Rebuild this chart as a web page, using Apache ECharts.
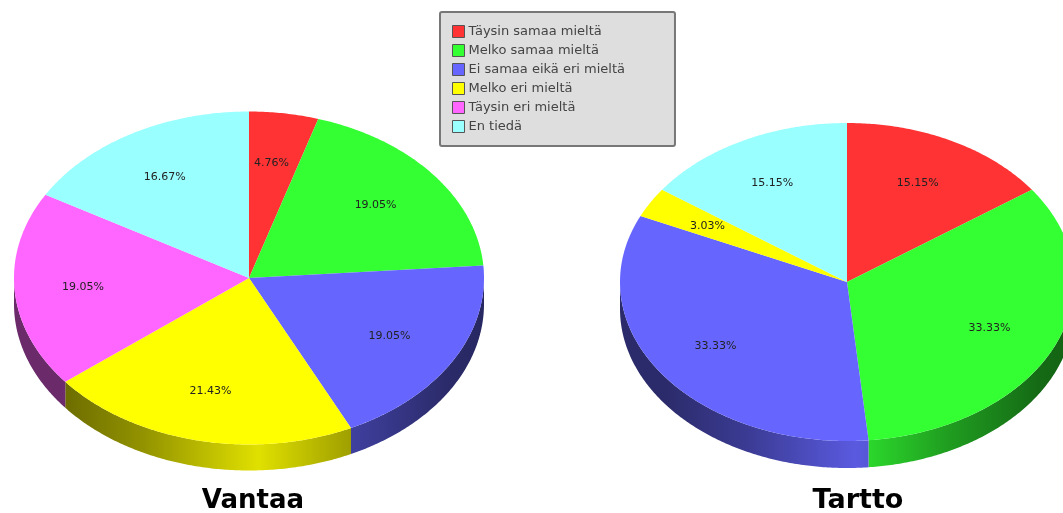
<!DOCTYPE html>
<html><head><meta charset="utf-8">
<style>html,body{margin:0;padding:0;background:#fff}#c{width:1063px;height:513px;filter:blur(0.45px)}</style>
<script src="https://cdn.jsdelivr.net/npm/echarts@6/dist/echarts.min.js"></script>
</head><body><div id="c"></div>
<script>
const categories = ['Täysin samaa mieltä','Melko samaa mieltä','Ei samaa eikä eri mieltä','Melko eri mieltä','Täysin eri mieltä','En tiedä'];
const cities = ['Vantaa','Tartto'];
const vantaa = [4.76,19.05,19.05,21.43,19.05,16.67];
const tartto = [15.15,33.33,33.33,3.03,0,15.15];
const colors = ['#ff3333','#33ff33','#6666ff','#ffff00','#ff66ff','#99ffff'];

const pies = [
  {cx:249, cy:278, rx:235, ry:166.5, depth:26, values:vantaa},
  {cx:847, cy:282, rx:227, ry:159, depth:27, values:tartto}
];
function shade(hex,f){
  const n=parseInt(hex.slice(1),16);
  return 'rgb('+[n>>16&255,n>>8&255,n&255].map(v=>Math.round(v*f)).join(',')+')';
}
function pt(p,a,dy){return [p.cx+p.rx*Math.sin(a), p.cy-p.ry*Math.cos(a)+(dy||0)];}
function arc(p,a0,a1,dy){
  const n=Math.max(2,Math.ceil((a1-a0)/0.01)),o=[];
  for(let i=0;i<=n;i++) o.push(pt(p,a0+(a1-a0)*i/n,dy));
  return o;
}
function renderSlice(catIdx){
  return function(params,api){
    const pie=pies[params.dataIndex], v=api.value(0);
    const vals=pie.values, total=vals.reduce((a,b)=>a+b,0);
    let before=0; for(let i=0;i<catIdx;i++) before+=vals[i];
    const a0=before/total*2*Math.PI, a1=(before+v)/total*2*Math.PI;
    if(!(v>0)) return {type:'group',children:[]};
    const ch=[];
    const s0=Math.max(a0,Math.PI/2), s1=Math.min(a1,1.5*Math.PI);
    const col=colors[catIdx];
    if(s1>s0){
      const top=arc(pie,s0,s1,0), bot=arc(pie,s0,s1,pie.depth).reverse();
      ch.push({type:'polygon',z2:1,shape:{points:top.concat(bot)},style:{fill:{
        type:'linear',global:true,x:pie.cx-pie.rx,y:0,x2:pie.cx+pie.rx,y2:0,
        colorStops:[{offset:0,color:shade(col,.42)},{offset:.1,color:shade(col,.42)},
          {offset:.28,color:shade(col,.58)},{offset:.52,color:shade(col,.88)},
          {offset:.72,color:shade(col,.62)},{offset:.92,color:shade(col,.42)},{offset:1,color:shade(col,.38)}]
      }}});
    }
    ch.push({type:'polygon',z2:2,shape:{points:[[pie.cx,pie.cy]].concat(arc(pie,a0,a1,0))},style:{fill:col}});
    const m=(a0+a1)/2, lp=[pie.cx-2+.7*pie.rx*Math.sin(m), pie.cy-.7*pie.ry*Math.cos(m)];
    ch.push({type:'text',z2:3,style:{text:v.toFixed(2)+'%',x:lp[0],y:lp[1],align:'center',verticalAlign:'middle',
      font:'11px "DejaVu Sans"',fill:'#222'}});
    return {type:'group',children:ch};
  };
}
const chart=echarts.init(document.getElementById('c'),null,{renderer:'canvas'});
chart.setOption({
  animation:false,
  backgroundColor:'#fff',
  title:[
    {text:cities[0],left:248,top:483,textAlign:'center',textStyle:{fontFamily:'DejaVu Sans',fontSize:26,fontWeight:'bold',color:'#000'}},
    {text:cities[1],left:853,top:482,textAlign:'center',textStyle:{fontFamily:'DejaVu Sans',fontSize:27,fontWeight:'bold',color:'#000'}}
  ],
  legend:{
    orient:'vertical',left:440,top:12,padding:[13,50,13,12],itemWidth:12,itemHeight:12,itemGap:6,
    backgroundColor:'#dedede',borderColor:'#777',borderWidth:2,borderRadius:2,
    selectedMode:false,
    textStyle:{fontFamily:'DejaVu Sans',fontSize:13,color:'#444',padding:[0,0,0,-1]},
    data:categories.map(n=>({name:n,icon:'rect',itemStyle:{borderColor:'#555',borderWidth:1}}))
  },
  series:categories.map((name,i)=>({
    type:'custom',name,coordinateSystem:'none',silent:true,
    itemStyle:{color:colors[i]},
    renderItem:renderSlice(i),
    data:[[vantaa[i]],[tartto[i]]]
  }))
});
</script></body></html>
